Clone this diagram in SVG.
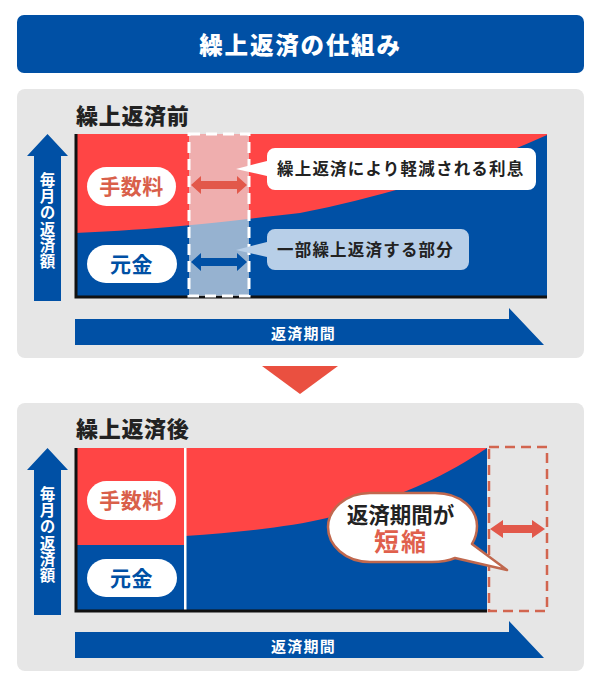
<svg xmlns="http://www.w3.org/2000/svg" width="600" height="690" viewBox="0 0 600 690">
<defs>
<style>
text{font-family:"Noto Sans CJK JP","Noto Sans",sans-serif;font-weight:700}
.panel{fill:#e6e6e6}
.red{fill:#ff4545}
.blue{fill:#0050a5}
.axis{fill:none;stroke:#111;stroke-width:3}
.pill{fill:#fff}
.title{font-size:22px;fill:#222;letter-spacing:.7px;font-weight:900}
.pr{font-size:21px;fill:#d9604a;text-anchor:middle;letter-spacing:.5px}
.pb{font-size:21px;fill:#0050a5;text-anchor:middle;letter-spacing:.5px}
.vert{font-size:15.5px;fill:#fff;writing-mode:vertical-rl;text-anchor:middle;letter-spacing:.8px}
.horiz{font-size:15px;fill:#fff;text-anchor:middle;letter-spacing:1.2px}
.call{font-size:16.5px;fill:#222;letter-spacing:1.2px}
</style>
</defs>
<rect id="background" width="600" height="690" fill="#fff"/>
<g id="header">
<rect x="17" y="15" width="567" height="58" rx="7" class="blue"/>
<text x="300.500" y="54" font-size="23.5" fill="#fff" text-anchor="middle" letter-spacing="1.8" style="font-weight:900">繰上返済の仕組み</text>
</g>
<g id="panel-before">
<rect x="17" y="89" width="567" height="269" rx="8" class="panel"/>
<text x="76" y="124" class="title">繰上返済前</text>
</g>
<g id="chart-before">
<rect x="75" y="134" width="472" height="163" class="red"/>
<path d="M75 233C190 228 250 218 300 213C390 195 470 170 547 135V297H75Z" class="blue"/>
<path d="M76 134V297H547" class="axis"/>
</g>
<g id="highlight-before">
<rect x="189" y="134" width="60" height="162" fill="#e6e6e6" fill-opacity=".65"/>
<rect x="189" y="134" width="60" height="162" fill="none" stroke="#fff" stroke-width="3" stroke-dasharray="11 6"/>
</g>
<g id="label-fee-before">
<rect x="87" y="167" width="89" height="39" rx="19.5" class="pill"/>
<text x="131.500" y="194" class="pr">手数料</text>
</g>
<g id="label-principal-before">
<rect x="87" y="245" width="90" height="38" rx="19" class="pill"/>
<text x="131.500" y="272" class="pb">元金</text>
</g>
<g id="callout-interest">
<path d="M236 169L267 161V156a8 8 0 0 1 8-8H528a8 8 0 0 1 8 8V182a8 8 0 0 1-8 8H275a8 8 0 0 1-8-8V176Z" fill="#fff"/>
<text x="277" y="175" class="call">繰上返済により軽減される利息</text>
</g>
<g id="callout-part">
<path d="M236 250L267 242V237a8 8 0 0 1 8-8H461a8 8 0 0 1 8 8V262a8 8 0 0 1-8 8H275a8 8 0 0 1-8-8V257Z" fill="#b8cfe8"/>
<text x="277" y="256" class="call">一部繰上返済する部分</text>
</g>
<g id="axis-y-before">
<path d="M47.500 134L68 156H61V301H34V156H27Z" class="blue"/>
<text x="47.500" y="221" class="vert">毎月の返済額</text>
</g>
<g id="axis-x-before">
<path d="M75 319H509V308L544 345H75Z" class="blue"/>
<text x="303.500" y="338.500" class="horiz">返済期間</text>
</g>
<g id="transition-arrow">
<path d="M262 366H338L300 394Z" fill="#ea5040"/>
</g>
<g id="panel-after">
<rect x="17" y="403" width="567" height="268" rx="8" class="panel"/>
<text x="76" y="437" class="title">繰上返済後</text>
</g>
<g id="chart-after">
<rect x="75" y="448" width="412" height="163" class="red"/>
<rect x="75" y="545" width="110" height="66" class="blue"/>
<path d="M185 536C240 532 290 527 327 518C390 500 440 480 487 448V611H185Z" class="blue"/>
<rect x="184" y="448" width="2.500" height="163" fill="#fff"/>
<path d="M76 448V611H487" class="axis"/>
</g>
<g id="shortened-box">
<rect x="489" y="447" width="58" height="164" fill="none" stroke="#d2654f" stroke-width="2.500" stroke-dasharray="10 6"/>
</g>
<g id="label-fee-after">
<rect x="87" y="481" width="89" height="39" rx="19.5" class="pill"/>
<text x="131.500" y="508" class="pr">手数料</text>
</g>
<g id="label-principal-after">
<rect x="87" y="559" width="90" height="38" rx="19" class="pill"/>
<text x="131.500" y="586" class="pb">元金</text>
</g>
<g id="callout-short">
<path d="M370 493H435C462 493 477 510 477 526C477 533 475 539 472 544L507 570L455 558C448 561 440 562 432 562H370C345 562 328 545 328 527C328 510 345 493 370 493Z" fill="#fff" stroke="#c0684e" stroke-width="2.500" stroke-linejoin="round"/>
<text text-anchor="middle"><tspan x="400.500" y="523" font-size="21.500" fill="#222">返済期間が</tspan><tspan x="401" y="551" font-size="25" fill="#e0604c" letter-spacing="2">短縮</tspan></text>
</g>
<g id="axis-y-after">
<path d="M47.500 448L68 470H61V615H34V470H27Z" class="blue"/>
<text x="47.500" y="535" class="vert">毎月の返済額</text>
</g>
<g id="axis-x-after">
<path d="M75 632H509V621L544 658H75Z" class="blue"/>
<text x="303.500" y="651.500" class="horiz">返済期間</text>
</g>
<g id="connectors" fill="none">
<path d="M191 185L201 176V181H237V176L247 185L237 194V189H201V194Z" fill="#e2584a"/>
<path d="M191 262L201 253V258H237V253L247 262L237 271V266H201V271Z" fill="#0050a5"/>
<path d="M490 529L503 520V525H532V520L545 529L532 538V533H503V538Z" fill="#e2584a"/>
</g>
</svg>
